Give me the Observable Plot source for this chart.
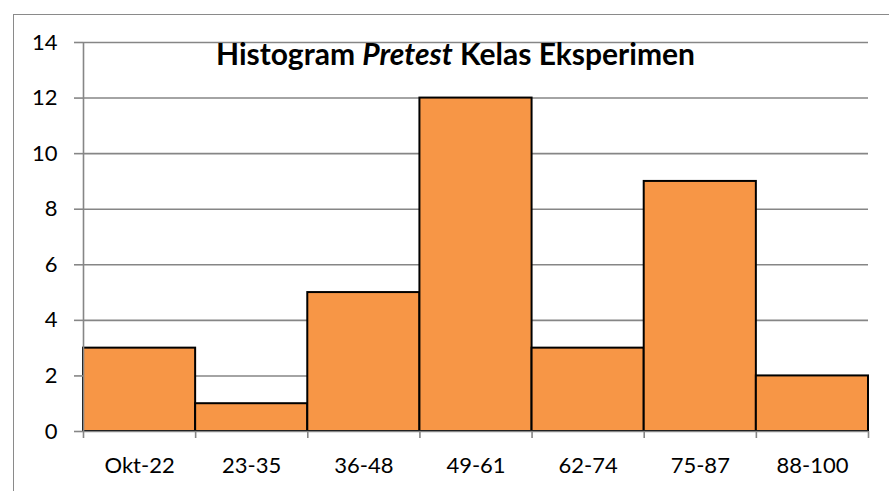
<!DOCTYPE html>
<html>
<head>
<meta charset="utf-8">
<script src="https://cdn.jsdelivr.net/npm/d3@7"></script>
<script src="https://cdn.jsdelivr.net/npm/@observablehq/plot@0.6"></script>
<style>
  html, body { margin: 0; padding: 0; background: #fff; }
  #wrap { position: relative; width: 889px; height: 491px; overflow: hidden; }
  #border { position: absolute; left: 13px; top: 14px; width: 1000px; height: 1000px;
            border-left: 1.5px solid #8a8a8a; border-top: 1.5px solid #8a8a8a; }
  #title { position: absolute; left: 0; top: 38px; width: 911px; text-align: center;
           font-family: Lato, "Open Sans", sans-serif; font-weight: bold; font-size: 30px; color: #000;
           line-height: 30px; white-space: nowrap; }
  #chart { position: absolute; left: 0; top: 0; }
</style>
</head>
<body>
<div id="wrap">
  <div id="border"></div>
  <div id="chart"></div>
  <div id="title">Histogram <i>Pretest</i> Kelas Eksperimen</div>
</div>
<script>
const categories = ["Okt-22", "23-35", "36-48", "49-61", "62-74", "75-87", "88-100"];
const frequencies = [3, 1, 5, 12, 3, 9, 2];
const yTicks = [0, 2, 4, 6, 8, 10, 12, 14];

const data = categories.map((c, i) => ({ label: c, i, value: frequencies[i] }));
const idx = categories.map((c, i) => i);

const grey = "#868686";
const font = "Lato, 'Open Sans', sans-serif";

const chart = Plot.plot({
  width: 889,
  height: 491,
  marginLeft: 83,
  marginRight: 21,
  marginTop: 42,
  marginBottom: 60,
  style: { fontFamily: font, fontSize: "22px", color: "#000", background: "transparent", overflow: "visible" },
  x: { type: "linear", domain: [0, categories.length] },
  y: { domain: [0, 14] },
  marks: [
    Plot.ruleY(yTicks.filter(d => d > 0), { stroke: grey, strokeWidth: 1.6 }),
    Plot.rectY(data, { x1: "i", x2: d => d.i + 1, y: "value", fill: "#F79646", stroke: "#000", strokeWidth: 2 }),
    Plot.ruleX([0], { stroke: grey, strokeWidth: 1.6 }),
    Plot.ruleY([0], { stroke: grey, strokeWidth: 1.6 }),
    Plot.axisY({ ticks: yTicks, tickSize: 9, tickPadding: 17, stroke: grey, strokeWidth: 1.6, label: null, fontSize: 22, fill: "#000" }),
    Plot.axisX({ ticks: d3.range(0, categories.length + 1), tickSize: 7, tickFormat: () => "", stroke: grey, strokeWidth: 1.6, label: null }),
    Plot.axisX({ ticks: idx.map(i => i + 0.5), tickSize: 0, tickPadding: 26, tickFormat: v => categories[Math.floor(v)], label: null, fontSize: 22, fill: "#000" })
  ]
});
document.getElementById("chart").appendChild(chart);
</script>
</body>
</html>
